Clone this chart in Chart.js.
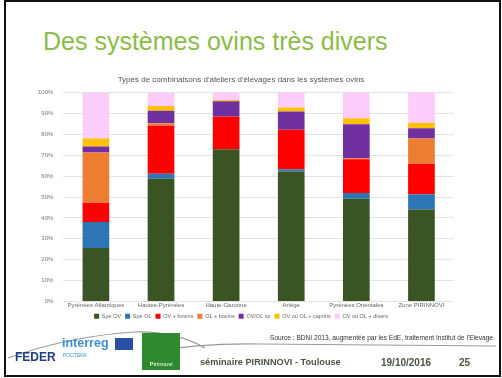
<!DOCTYPE html>
<html>
<head>
<meta charset="utf-8">
<script src="https://cdn.jsdelivr.net/npm/chart.js@4.4.0/dist/chart.umd.min.js"></script>
<style>
  html, body { margin: 0; padding: 0; background: #fff; }
  body { width: 502px; height: 378px; position: relative; overflow: hidden; font-family: "Liberation Sans", Arial, sans-serif; }
  .frame { position: absolute; left: 4px; top: 0; width: 493px; height: 373px; border: 2px solid #111; }
  .title { position: absolute; left: 43px; top: 27px; font-size: 25px; color: #8cbb47; white-space: nowrap; }
  #wrap { position: absolute; left: 20px; top: 74px; width: 450px; height: 255px; }
  .src { position: absolute; left: 270px; top: 334px; font-size: 6.6px; color: #333; white-space: nowrap; }
  .foot { position: absolute; top: 357px; font-size: 10px; font-weight: bold; color: #4b5540; white-space: nowrap; }
  .feder { position: absolute; left: 15px; top: 350px; font-size: 12px; font-weight: bold; color: #1d3f86; }
  .interreg { position: absolute; left: 62px; top: 336px; font-size: 12.5px; font-weight: bold; color: #3d8fd0; }
  .poctefa { position: absolute; left: 63px; top: 352px; font-size: 5px; color: #3d8fd0; }
  .eu { position: absolute; left: 115px; top: 338px; width: 18px; height: 12px; background: #2a4fa8; }
  .piri { position: absolute; left: 142px; top: 333px; width: 38px; height: 37px; background: #2f8a2f; }
  .piri span { position: absolute; bottom: 3px; left: 0; width: 100%; text-align: center; font-size: 6px; color: #fff; }
  svg { position: absolute; left: 0; top: 320px; }
</style>
</head>
<body>
<div class="frame"></div>
<div class="title">Des systèmes ovins très divers</div>
<div id="wrap"><canvas id="chart"></canvas></div>
<svg width="502" height="50">
  <path d="M8 38 Q 70 16 135 12 Q 175 11 205 28" stroke="#9a9a9a" stroke-width="1.2" fill="none"/>
  <path d="M150 32 Q 200 23 260 24 L 496 26" stroke="#9a9a9a" stroke-width="1.2" fill="none"/>
</svg>
<div class="src">Source : BDNI 2013, augmentée par les EdE, traitement Institut de l'Elevage</div>
<div class="feder">FEDER</div>
<div class="interreg">interreg</div>
<div class="poctefa">POCTEFA</div>
<div class="eu"></div>
<div class="piri"><span>Pirinnovi</span></div>
<div class="foot" style="left:200px; font-size:9.2px">séminaire PIRINNOVI - Toulouse</div>
<div class="foot" style="left:381px">19/10/2016</div>
<div class="foot" style="left:459px">25</div>
<script>
const categories = ['Pyrénées Atlantiques', 'Hautes-Pyrénées', 'Haute-Garonne', 'Ariège', 'Pyrénées Orientales', 'Zone PIRINNOVI'];
const seriesNames = ['Spé OV', 'Spé OL', 'OV + bovins', 'OL + bovins', 'OV/OL sp', 'OV ou OL + caprins', 'OV ou OL + divers'];
const speOV = [25.6, 58.8, 72.9, 62.2, 49.2, 44.1];
const speOL = [12.4, 2.4, 0, 1.1, 2.7, 7.2];
const ovBovins = [9.3, 22.9, 15.6, 18.9, 16.2, 14.6];
const olBovins = [24.0, 1.2, 0, 0, 0.5, 12.1];
const ovOlSp = [2.9, 6.0, 7.3, 8.8, 16.2, 4.9];
const caprins = [3.8, 2.3, 0.7, 1.9, 2.9, 2.5];
const divers = [22.0, 6.4, 3.5, 7.1, 12.3, 14.6];
const yTicks = [0, 10, 20, 30, 40, 50, 60, 70, 80, 90, 100];

const colors = ['#3b5424', '#2e75b6', '#ff0000', '#ed7d31', '#7030a0', '#ffc000', '#fcccfa'];
const allSeries = [speOV, speOL, ovBovins, olBovins, ovOlSp, caprins, divers];

new Chart(document.getElementById('chart'), {
    type: 'bar',
    data: {
        labels: categories,
        datasets: allSeries.map((vals, i) => ({
            label: seriesNames[i],
            data: vals,
            backgroundColor: colors[i],
            borderWidth: 0,
            categoryPercentage: 1,
            barPercentage: 0.41
        }))
    },
    options: {
        responsive: true,
        maintainAspectRatio: false,
        animation: false,
        layout: { padding: { left: 8, right: 16, top: 0, bottom: 0 } },
        scales: {
            x: {
                stacked: true,
                grid: { display: false, drawTicks: false },
                border: { display: false },
                ticks: { color: '#666', font: { size: 6, lineHeight: 1 }, maxRotation: 0, padding: 1 }
            },
            y: {
                stacked: true,
                min: 0,
                max: 100,
                afterBuildTicks: axis => { axis.ticks = yTicks.map(v => ({ value: v })); },
                grid: { color: '#e2e2e2', lineWidth: 1, drawTicks: false },
                border: { display: false },
                ticks: { color: '#777', font: { size: 6 }, padding: 10, callback: v => v + '%' }
            }
        },
        plugins: {
            title: {
                display: true,
                text: "Types de combinaisons d'ateliers d'élevages dans les systèmes ovins",
                color: '#555',
                font: { size: 8, weight: 'normal' },
                padding: { top: 1, bottom: 8 }
            },
            legend: {
                position: 'bottom',
                labels: { boxWidth: 5, boxHeight: 5, padding: 4, color: '#666', font: { size: 5.5 } }
            },
            tooltip: { enabled: false }
        }
    }
});
</script>
</body>
</html>
